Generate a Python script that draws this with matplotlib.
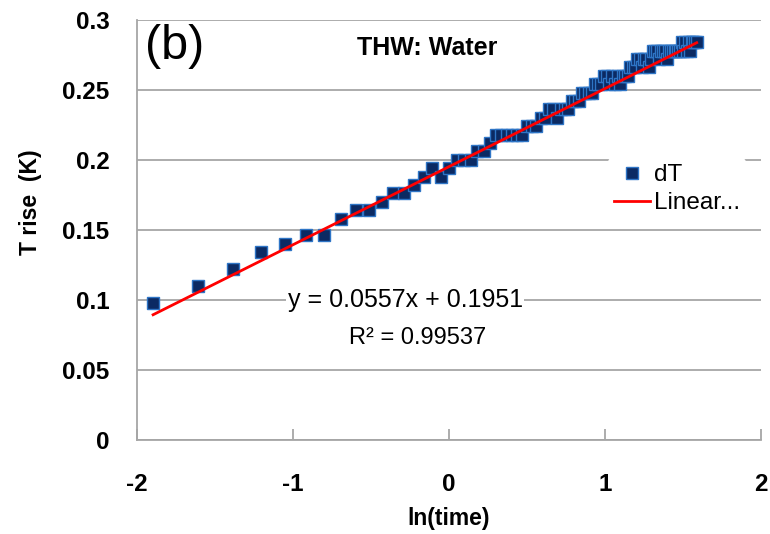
import numpy as np
import matplotlib.pyplot as plt

time = [0.15, 0.20, 0.25, 0.30, 0.35, 0.40, 0.45, 0.50, 0.55, 0.60,
        0.65, 0.70, 0.75, 0.80, 0.85, 0.90, 0.95, 1.00, 1.05, 1.10,
        1.15, 1.20, 1.25, 1.30, 1.35, 1.40, 1.45, 1.50, 1.55, 1.60,
        1.65, 1.70, 1.75, 1.80, 1.85, 1.90, 1.95, 2.00, 2.05, 2.10,
        2.15, 2.20, 2.25, 2.30, 2.35, 2.40, 2.45, 2.50, 2.55, 2.60,
        2.65, 2.70, 2.75, 2.80, 2.85, 2.90, 2.95, 3.00, 3.05, 3.10,
        3.15, 3.20, 3.25, 3.30, 3.35, 3.40, 3.45, 3.50, 3.55, 3.60,
        3.65, 3.70, 3.75, 3.80, 3.85, 3.90, 3.95, 4.00, 4.05, 4.10,
        4.15, 4.20, 4.25, 4.30, 4.35, 4.40, 4.45, 4.50, 4.55, 4.60,
        4.65, 4.70, 4.75, 4.80, 4.85, 4.90]
dT = [0.098, 0.110, 0.122, 0.134, 0.140, 0.146, 0.146, 0.158, 0.164, 0.164,
      0.170, 0.176, 0.176, 0.182, 0.188, 0.194, 0.188, 0.194, 0.200, 0.200,
      0.200, 0.206, 0.206, 0.212, 0.218, 0.218, 0.218, 0.218, 0.218, 0.218,
      0.224, 0.224, 0.224, 0.230, 0.230, 0.236, 0.236, 0.230, 0.236, 0.236,
      0.236, 0.242, 0.242, 0.242, 0.248, 0.248, 0.248, 0.248, 0.254, 0.254,
      0.254, 0.260, 0.260, 0.254, 0.260, 0.254, 0.260, 0.254, 0.260, 0.260,
      0.260, 0.266, 0.266, 0.266, 0.272, 0.272, 0.266, 0.272, 0.272, 0.266,
      0.272, 0.278, 0.278, 0.278, 0.272, 0.278, 0.278, 0.278, 0.272, 0.278,
      0.278, 0.278, 0.278, 0.278, 0.278, 0.278, 0.284, 0.278, 0.284, 0.278,
      0.284, 0.278, 0.284, 0.284, 0.284, 0.284]

slope = 0.0557
intercept = 0.1951
r2 = 0.99537

x_ticks = [-2, -1, 0, 1, 2]
y_ticks = [0, 0.05, 0.1, 0.15, 0.2, 0.25, 0.3]
y_ticklabels = ["0", "0.05", "0.1", "0.15", "0.2", "0.25", "0.3"]

FONT = "Liberation Sans"

lnt = np.log(time)
fit_x = np.array([lnt.min(), lnt.max()])
fit_y = slope * fit_x + intercept

fig = plt.figure(figsize=(7.7, 5.34), dpi=100)
ax = fig.add_axes([0.178, 0.176, 0.81, 0.787])

ax.set_xlim(-2, 2)
ax.set_ylim(0, 0.3)
ax.set_xticks(x_ticks)
ax.set_yticks(y_ticks)
ax.set_yticklabels(y_ticklabels)
ax.set_xticklabels([str(v) for v in x_ticks])

ax.grid(axis="y", color="#a6a6a6", linewidth=1.3)
ax.set_axisbelow(True)
for s in ["top", "right"]:
    ax.spines[s].set_visible(False)
for s in ["left", "bottom"]:
    ax.spines[s].set_color("#a6a6a6")
    ax.spines[s].set_linewidth(1.3)

ax.tick_params(axis="x", direction="in", length=8, width=1.3, color="#a6a6a6", pad=24)
ax.tick_params(axis="y", length=0, pad=20)
for lab in ax.get_xticklabels() + ax.get_yticklabels():
    lab.set_fontweight("bold")
    lab.set_fontsize(17.5)
    lab.set_family(FONT)

ax.plot(lnt, dT, linestyle="none", marker="s", markersize=8,
        markerfacecolor="#0b2a63", markeredgecolor="#2e75c6", markeredgewidth=1.0,
        label="dT", zorder=3)
ax.plot(fit_x, fit_y, color="#ff0000", linewidth=2, label="Linear...", zorder=4)

fig.text(449 / 770, 1 - 518 / 534, "ln(time)", fontsize=16.5, fontweight="bold",
         family=FONT, ha="center", va="center")
fig.text(30 / 770, 1 - 202 / 534, "T rise  (K)", fontsize=16.5, fontweight="bold",
         family=FONT, ha="center", va="center", rotation=90)

ax.text(0.012, 0.99, "(b)", transform=ax.transAxes, fontsize=35,
        family=FONT, va="top", ha="left")
ax.text(0.465, 0.932, "THW: Water", transform=ax.transAxes, fontsize=18,
        fontweight="bold", family=FONT, ha="center", va="center")

ax.text(-0.28, 0.1001, "y = 0.0557x + 0.1951", fontsize=18, family=FONT,
        ha="center", va="center", bbox=dict(facecolor="white", edgecolor="none", pad=1), zorder=2)
ax.text(-0.2, 0.0729, "R\u00b2 = %.5f" % r2, fontsize=17, family=FONT,
        ha="center", va="center", zorder=2)

leg = ax.legend(loc="upper left", bbox_to_anchor=(0.735, 0.70), frameon=True,
                handlelength=1.5, handletextpad=0.15, borderpad=0.25,
                labelspacing=0.25, prop={"family": FONT, "size": 17.5})
leg.get_frame().set_edgecolor("none")
leg.get_frame().set_facecolor("white")
leg.get_frame().set_alpha(1)

fig.savefig("out.png", dpi=100)
